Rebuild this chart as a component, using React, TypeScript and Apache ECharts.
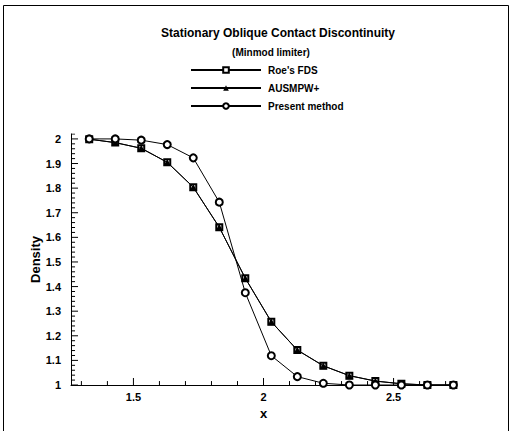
import React, { useEffect, useRef } from "react";
import * as echarts from "echarts";

const xValues = [1.33, 1.43, 1.53, 1.63, 1.73, 1.83, 1.93, 2.03, 2.13, 2.23, 2.33, 2.43, 2.53, 2.63, 2.73];
const roeFds = [1.999, 1.985, 1.962, 1.905, 1.804, 1.641, 1.434, 1.257, 1.142, 1.078, 1.038, 1.016, 1.005, 1.0, 1.0];
const ausmpw = [1.999, 1.985, 1.962, 1.905, 1.804, 1.641, 1.434, 1.257, 1.142, 1.078, 1.038, 1.016, 1.005, 1.0, 1.0];
const present = [2.0, 2.0, 1.995, 1.977, 1.923, 1.743, 1.375, 1.119, 1.034, 1.007, 1.0, 1.0, 1.0, 1.0, 1.0];

const xMajorTicks = [1.5, 2, 2.5];
const xMinorTicks = [1.3, 1.4, 1.6, 1.7, 1.8, 1.9, 2.1, 2.2, 2.3, 2.4, 2.6, 2.7];
const yMajorTicks = [1, 1.1, 1.2, 1.3, 1.4, 1.5, 1.6, 1.7, 1.8, 1.9, 2];
const yMinorTicks = [
  1.02, 1.04, 1.06, 1.08, 1.12, 1.14, 1.16, 1.18, 1.22, 1.24, 1.26, 1.28,
  1.32, 1.34, 1.36, 1.38, 1.42, 1.44, 1.46, 1.48, 1.52, 1.54, 1.56, 1.58,
  1.62, 1.64, 1.66, 1.68, 1.72, 1.74, 1.76, 1.78, 1.82, 1.84, 1.86, 1.88,
  1.92, 1.94, 1.96, 1.98, 2.02,
];

const X_MIN = 1.26;
const X_MAX = 2.74;
const Y_MIN = 1;
const Y_MAX = 2.02;

// tick lengths expressed in axis units (about 7 px major, 4 px minor)
const X_TICK_MAJOR = 0.0285;
const X_TICK_MINOR = 0.016;
const Y_TICK_MAJOR = 0.027;
const Y_TICK_MINOR = 0.0155;

const FONT = "'Liberation Sans', Arial, Helvetica, sans-serif";

function pairs(ys: number[]) {
  return xValues.map((x, i) => [x, ys[i]]);
}

function xTickSegments(values: number[], len: number) {
  const out: any[] = [];
  values.forEach((v) => {
    out.push([v, Y_MIN], [v, Y_MIN + len], [v, "-"]);
  });
  return out;
}

function yTickSegments(values: number[], len: number) {
  const out: any[] = [];
  values.forEach((v) => {
    out.push([X_MIN, v], [X_MIN + len, v], ["-", v]);
  });
  return out;
}

const tickSeriesBase = {
  type: "line",
  showSymbol: false,
  symbol: "none",
  connectNulls: false,
  silent: true,
  legendHoverLink: false,
  lineStyle: { color: "#000", width: 1 },
  z: 2,
};

export default function App() {
  const ref = useRef<HTMLDivElement>(null);
  useEffect(() => {
    if (!ref.current) return;
    const chart = echarts.init(ref.current, null, { renderer: "svg" });
    chart.setOption({
      animation: false,
      grid: { left: 71, right: 56, top: 134, bottom: 46 },
      graphic: [
        {
          type: "polyline",
          shape: { points: [[3.5, 431], [3.5, 5.5], [508.5, 5.5], [508.5, 431]] },
          style: { fill: null, stroke: "#000", lineWidth: 1 },
          silent: true,
        },
        {
          type: "text",
          x: 278,
          y: 33,
          style: {
            text: "Stationary Oblique Contact Discontinuity",
            textAlign: "center",
            textVerticalAlign: "middle",
            font: `bold 12px ${FONT}`,
            fill: "#000",
          },
        },
        {
          type: "text",
          x: 271,
          y: 52,
          style: {
            text: "(Minmod limiter)",
            textAlign: "center",
            textVerticalAlign: "middle",
            font: `bold 10px ${FONT}`,
            fill: "#000",
          },
        },
      ],
      legend: {
        orient: "vertical",
        left: 185,
        top: 60,
        itemWidth: 70,
        itemHeight: 7,
        itemGap: 8,
        textStyle: {
          fontFamily: FONT,
          fontWeight: "bold",
          fontSize: 10,
          color: "#000",
          padding: [0, 0, 0, 2],
        },
        data: ["Roe's FDS", "AUSMPW+", "Present method"],
      },
      xAxis: {
        type: "value",
        min: X_MIN,
        max: X_MAX,
        axisLine: { show: true, lineStyle: { color: "#000", width: 1 } },
        splitLine: { show: false },
        axisTick: { show: false },
        name: "x",
        nameLocation: "middle",
        nameGap: 18,
        nameTextStyle: { fontFamily: FONT, fontWeight: "bold", fontSize: 13, color: "#000" },
        axisLabel: {
          customValues: xMajorTicks,
          margin: 6,
          fontFamily: FONT,
          fontWeight: "bold",
          fontSize: 11,
          color: "#000",
          formatter: (v: number) => String(v),
        },
      },
      yAxis: {
        type: "value",
        min: Y_MIN,
        max: Y_MAX,
        axisLine: { show: true, lineStyle: { color: "#000", width: 1 } },
        splitLine: { show: false },
        axisTick: { show: false },
        name: "Density",
        nameLocation: "middle",
        nameGap: 29,
        nameMoveOverlap: false,
        nameTextStyle: { fontFamily: FONT, fontWeight: "bold", fontSize: 13, color: "#000" },
        axisLabel: {
          customValues: yMajorTicks,
          margin: 10,
          fontFamily: FONT,
          fontWeight: "bold",
          fontSize: 11,
          color: "#000",
          formatter: (v: number) => String(+v.toFixed(1)),
        },
      },
      series: [
        { ...tickSeriesBase, name: "x major ticks", data: xTickSegments(xMajorTicks, X_TICK_MAJOR) },
        { ...tickSeriesBase, name: "x minor ticks", data: xTickSegments(xMinorTicks, X_TICK_MINOR) },
        { ...tickSeriesBase, name: "y major ticks", data: yTickSegments(yMajorTicks, Y_TICK_MAJOR) },
        { ...tickSeriesBase, name: "y minor ticks", data: yTickSegments(yMinorTicks, Y_TICK_MINOR) },
        {
          name: "Roe's FDS",
          type: "line",
          data: pairs(roeFds),
          symbol: "emptyRect",
          symbolSize: 6,
          lineStyle: { color: "#000", width: 1 },
          itemStyle: { color: "#000", borderWidth: 1 },
          z: 3,
        },
        {
          name: "AUSMPW+",
          type: "line",
          data: pairs(ausmpw),
          symbol: "triangle",
          symbolSize: 7,
          lineStyle: { color: "#000", width: 1 },
          itemStyle: { color: "#000" },
          z: 4,
        },
        {
          name: "Present method",
          type: "line",
          data: pairs(present),
          symbol: "emptyCircle",
          symbolSize: 7,
          lineStyle: { color: "#000", width: 1 },
          itemStyle: { color: "#000", borderWidth: 1 },
          z: 5,
        },
      ],
    });
    return () => chart.dispose();
  }, []);
  return (
    <div
      ref={ref}
      style={{ position: "fixed", left: 0, top: 0, width: 512, height: 431, background: "#fff" }}
    />
  );
}
